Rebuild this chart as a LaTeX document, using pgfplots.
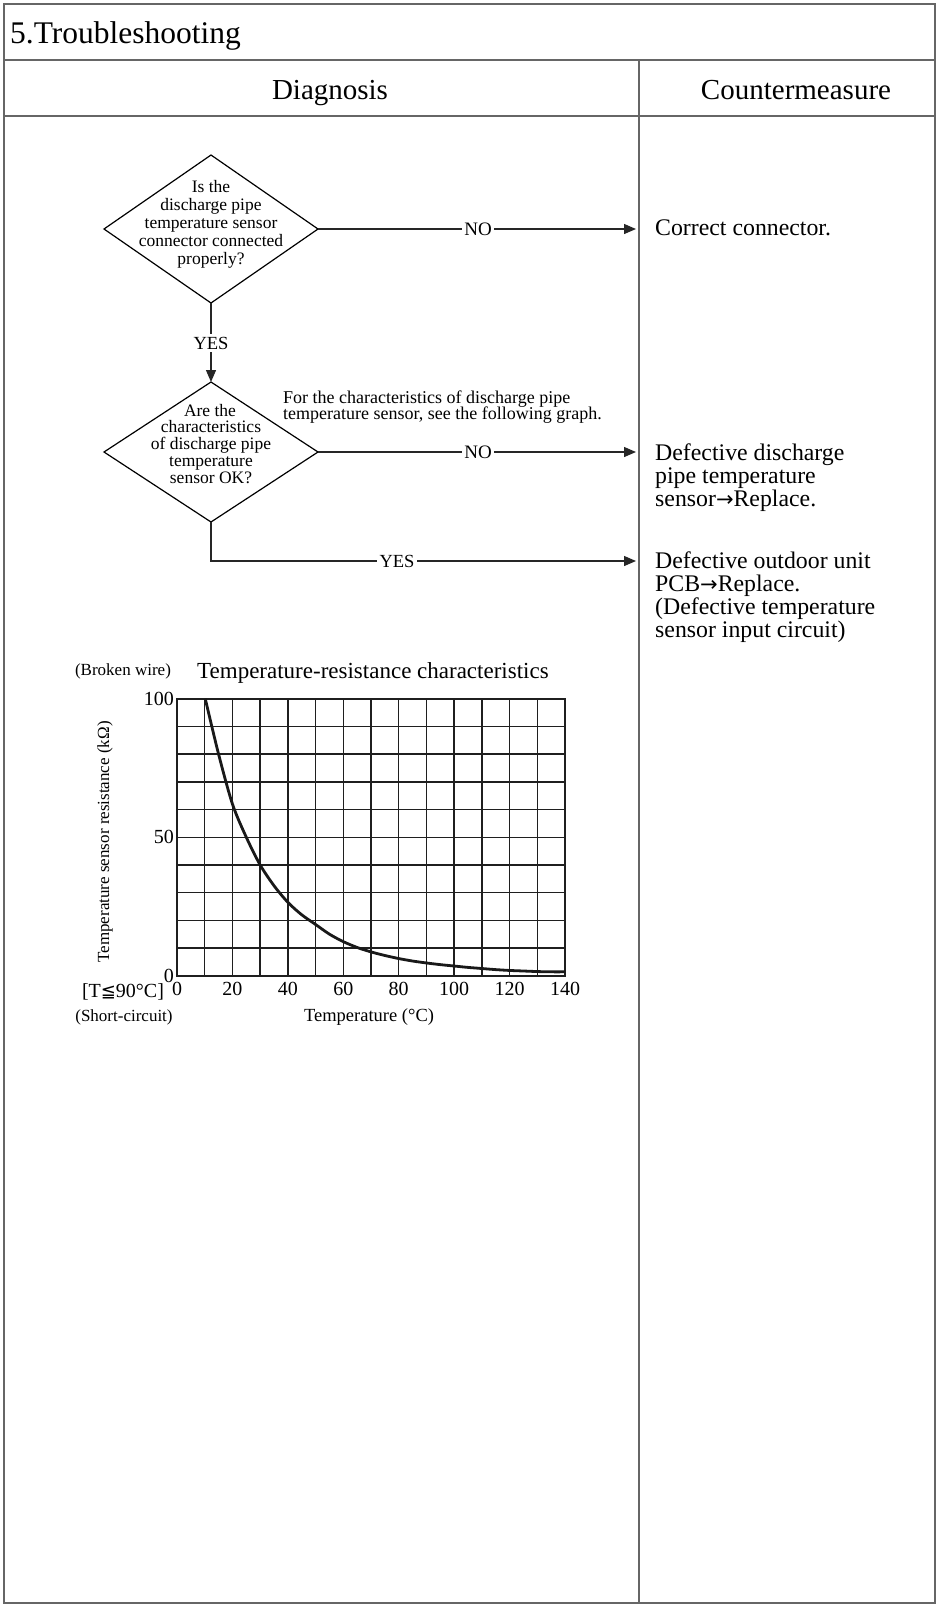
\documentclass[border=0pt]{standalone}
\usepackage{fontspec}
\setmainfont{Liberation Serif}
\newfontfamily\dejavu{DejaVu Sans}
\usepackage{pgfplots}
\pgfplotsset{compat=1.18}
\usetikzlibrary{arrows.meta}
\newcommand\fs[2]{\fontsize{#1}{#2}\selectfont}

\pgfplotstableread{
T R
10.2 100
15 80
20 62
25 50
30 40
35 32.5
40 26.5
45 22
50 18.5
55 15
60 12.3
65 10.2
70 8.6
75 7.3
80 6.2
85 5.3
90 4.6
95 4.0
100 3.5
105 3.0
110 2.6
115 2.2
120 1.9
125 1.7
130 1.5
135 1.4
140 1.4
}\curvedata

\begin{document}
\begin{tikzpicture}
\begin{scope}[x=1pt,y=-1pt, every node/.style={inner sep=0pt}]
\useasboundingbox (0,0) rectangle (938,1607);
% table frame
\draw[line width=2pt, draw=black!60] (4,4) rectangle (935,1603);
\draw[line width=2pt, draw=black!60] (4,60) -- (935,60);
\draw[line width=2pt, draw=black!60] (4,116) -- (935,116);
\draw[line width=2pt, draw=black!60] (639,60) -- (639,1603);
\node[anchor=base west, font=\fs{31.5}{32}] at (10,43) {5.Troubleshooting};
\node[anchor=base, font=\fs{29}{30}] at (330,99) {Diagnosis};
\node[anchor=base, font=\fs{29}{30}] at (796,99) {Countermeasure};

% diamond 1
\draw[line width=1.2pt] (104,229) -- (211,155) -- (318,229) -- (211,303) -- cycle;
\begin{scope}[every node/.style={anchor=base, inner sep=0pt, font=\fs{17.5}{18}}]
\node at (211,192) {Is the};
\node at (211,210.2) {discharge pipe};
\node at (211,228.4) {temperature sensor};
\node at (211,246.6) {connector connected};
\node at (211,264.8) {properly?};
\end{scope}

% diamond 2
\draw[line width=1.2pt] (104,452) -- (211,382) -- (318,452) -- (211,522) -- cycle;
\begin{scope}[every node/.style={anchor=base, inner sep=0pt, font=\fs{17.5}{18}}]
\node at (210,416) {Are the};
\node at (211,432.8) {characteristics};
\node at (211,449.6) {of discharge pipe};
\node at (211,466.4) {temperature};
\node at (211,483.2) {sensor OK?};
\end{scope}

% note
\node[anchor=base west, font=\fs{18}{15}] at (283,403) {For the characteristics of discharge pipe};
\node[anchor=base west, font=\fs{18}{15}] at (283,419) {temperature sensor, see the following graph.};

% connectors
\tikzset{arr/.style={line width=1.3pt, draw=black!85, -{Triangle[length=12pt,width=10pt]}}}
\draw[arr] (318,229) -- (636,229);
\node[fill=white, inner sep=2.5pt, font=\fs{19}{19}] at (478,229) {NO};
\draw[arr] (211,303) -- (211,382);
\node[fill=white, inner sep=2.5pt, font=\fs{18.5}{19}] at (211,343) {YES};
\draw[arr] (318,452) -- (636,452);
\node[fill=white, inner sep=2.5pt, font=\fs{19}{19}] at (478,452) {NO};
\draw[arr] (211,522) -- (211,561) -- (636,561);
\node[fill=white, inner sep=2.5pt, font=\fs{18.5}{19}] at (397,561) {YES};

% countermeasures
\begin{scope}[every node/.style={anchor=base west, inner sep=0pt, font=\fs{23.8}{23.3}}]
\node at (655,235) {Correct connector.};
\node at (655,460) {Defective discharge};
\node at (655,483.3) {pipe temperature};
\node at (655,506.6) {sensor{\dejavu\fs{21}{21}→}Replace.};
\node at (655,568) {Defective outdoor unit};
\node at (655,591.3) {PCB{\dejavu\fs{21}{21}→}Replace.};
\node at (655,614.6) {(Defective temperature};
\node at (655,637.9) {sensor input circuit)};
\end{scope}

% chart side texts
\node[font=\fs{17}{17}] at (123,671) {(Broken wire)};
\node[font=\fs{20}{20}] at (123,992) {[T{\dejavu\fs{18}{18}≦}90°C]};
\node[font=\fs{17}{17}] at (124,1017) {(Short-circuit)};
\end{scope}

\begin{axis}[
  at={(177pt,-975.7pt)}, anchor=south west,
  scale only axis, width=388pt, height=277pt,
  xmin=0, xmax=140, ymin=0, ymax=100,
  xtick={0,20,...,140}, ytick={0,50,100},
  minor xtick={10,30,...,130},
  minor ytick={10,20,30,40,60,70,80,90},
  grid=both,
  major grid style={draw=black!88, line width=1.4pt},
  minor grid style={draw=black!88, line width=1.4pt},
  axis line style={draw=black!88, line width=2.4pt},
  major tick length=0pt, minor tick length=0pt,
  tick style={draw=none},
  /pgf/number format/assume math mode=true,
  ticklabel style={font=\fs{20}{20}, inner sep=0pt},
  xticklabel style={yshift=-6pt},
  yticklabel style={xshift=-3pt},
  title={Temperature-resistance characteristics},
  title style={font=\fs{23}{23}, at={(axis description cs:0.505,1.072)}, anchor=center, inner sep=0pt},
  xlabel={Temperature (°C)},
  xlabel style={font=\fs{18.5}{18.5}, at={(axis description cs:0.495,-0.151)}, anchor=center, inner sep=0pt},
  ylabel={Temperature sensor resistance (kΩ)},
  ylabel style={font=\fs{17}{17}, at={(axis description cs:-0.1856,0.483)}, anchor=center, inner sep=0pt},
]
\addplot[smooth, line width=2.8pt, draw=black!90] table[x=T, y=R] {\curvedata};
\end{axis}
\end{tikzpicture}
\end{document}
